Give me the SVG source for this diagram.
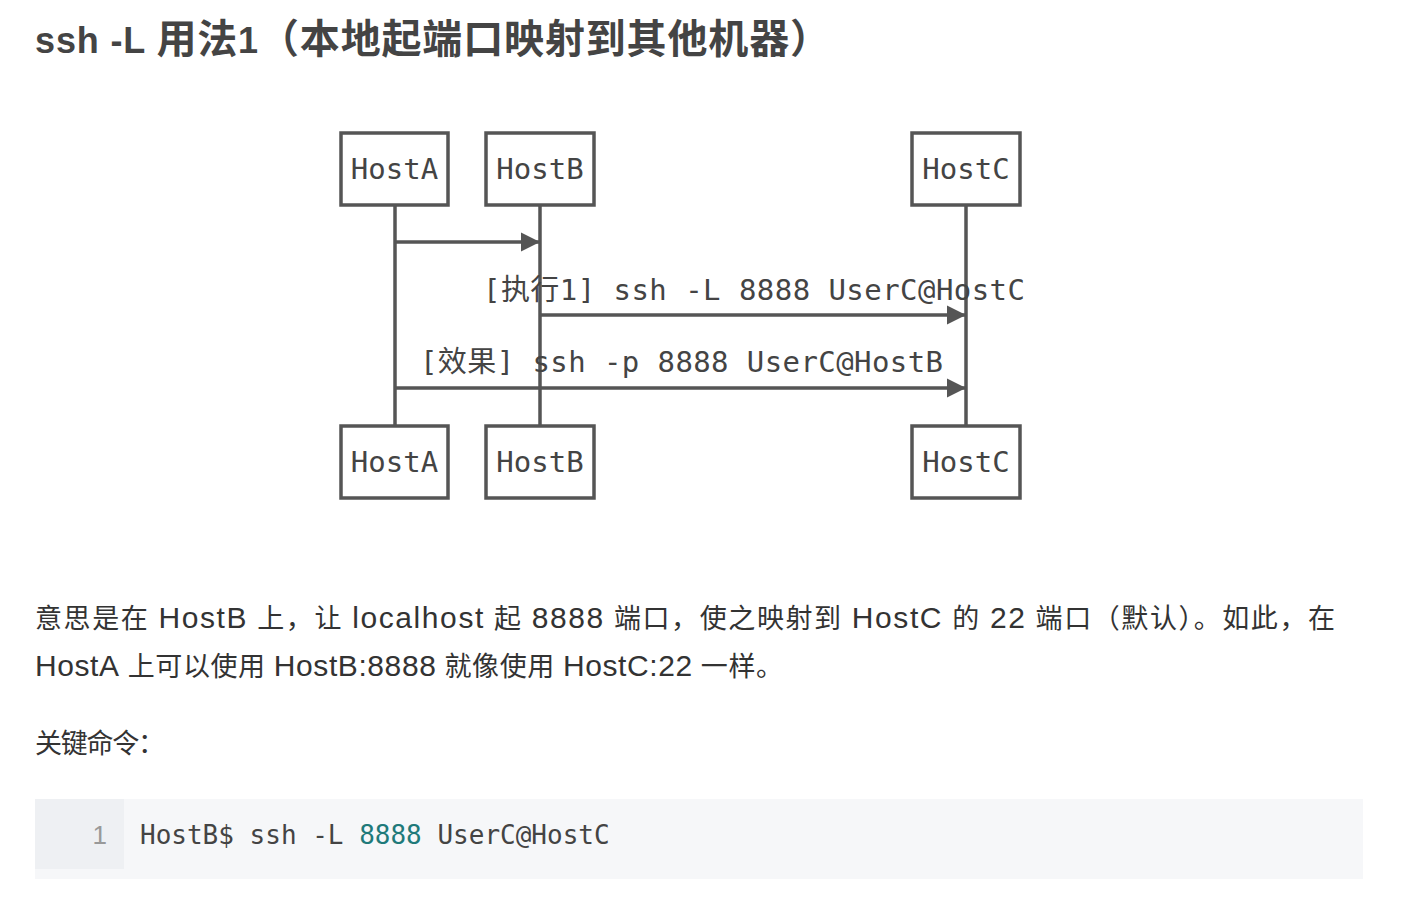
<svg xmlns="http://www.w3.org/2000/svg" width="1408" height="906" viewBox="0 0 1408 906">
<style>
.box{fill:#fff;stroke:#555;stroke-width:3.5}
.lbl{font-family:"DejaVu Sans Mono","Noto Sans CJK SC",monospace;font-size:29px;fill:#444;text-anchor:middle}
.ln{stroke:#555;stroke-width:3.5;fill:none}
.msg{font-family:"DejaVu Sans Mono","Noto Sans CJK SC",monospace;font-size:29px;fill:#444;text-anchor:middle}
.p{font-family:"Liberation Sans","Noto Sans CJK SC",sans-serif;font-size:27px;fill:#333}
.L{font-size:30px}
.t{font-family:"Liberation Sans","Noto Sans CJK SC",sans-serif;font-size:40px;font-weight:bold;fill:#444}
.tl{font-size:36px}
.code{font-family:"DejaVu Sans Mono","Noto Sans CJK SC",monospace;font-size:26px;fill:#444}
</style>
<defs>
<marker id="ah" viewBox="0 0 10 10" refX="10" refY="5" markerWidth="5.5" markerHeight="5.5" markerUnits="strokeWidth" orient="auto">
<path d="M0,0 L10,5 L0,10 Z" fill="#555"/>
</marker>
</defs>
<rect width="1408" height="906" fill="#fff"/>
<text class="t" x="35" y="53" textLength="795"><tspan class="tl">ssh -L </tspan>用法<tspan class="tl">1</tspan>（本地起端口映射到其他机器）</text>

<g id="lifelines">
<line class="ln" x1="395" y1="205" x2="395" y2="425"/>
<line class="ln" x1="540" y1="205" x2="540" y2="425"/>
<line class="ln" x1="966" y1="205" x2="966" y2="425"/>
</g>
<g id="connectors">
<line class="ln" x1="395" y1="242" x2="540" y2="242" marker-end="url(#ah)"/>
<line class="ln" x1="540" y1="315" x2="966" y2="315" marker-end="url(#ah)"/>
<line class="ln" x1="395" y1="388" x2="966" y2="388" marker-end="url(#ah)"/>
</g>
<g id="labels">
<text class="msg" x="754" y="300" textLength="542">[执行1] ssh -L 8888 UserC@HostC</text>
<text class="msg" x="681.5" y="372" textLength="523">[效果] ssh -p 8888 UserC@HostB</text>
</g>
<g id="hostA-top"><rect class="box" x="341" y="133" width="107" height="72"/><text class="lbl" x="394.5" y="179">HostA</text></g>
<g id="hostB-top"><rect class="box" x="486" y="133" width="108" height="72"/><text class="lbl" x="540" y="179">HostB</text></g>
<g id="hostC-top"><rect class="box" x="912" y="133" width="108" height="72"/><text class="lbl" x="966" y="179">HostC</text></g>
<g id="hostA-bottom"><rect class="box" x="341" y="426" width="107" height="72"/><text class="lbl" x="394.5" y="472">HostA</text></g>
<g id="hostB-bottom"><rect class="box" x="486" y="426" width="108" height="72"/><text class="lbl" x="540" y="472">HostB</text></g>
<g id="hostC-bottom"><rect class="box" x="912" y="426" width="108" height="72"/><text class="lbl" x="966" y="472">HostC</text></g>

<text class="p" x="35" y="628" textLength="1300">意思是在 <tspan class="L">HostB</tspan> 上，让 <tspan class="L">localhost</tspan> 起 <tspan class="L">8888</tspan> 端口，使之映射到 <tspan class="L">HostC</tspan> 的 <tspan class="L">22</tspan> 端口（默认）。如此，在</text>
<text class="p" x="35" y="676" textLength="748"><tspan class="L">HostA</tspan> 上可以使用 <tspan class="L">HostB:8888</tspan> 就像使用 <tspan class="L">HostC:22</tspan> 一样。</text>
<text class="p" x="35" y="753" textLength="130">关键命令：</text>

<g id="codeblock">
<rect x="35" y="799" width="1328" height="80" fill="#f6f7f9"/>
<rect x="35" y="799" width="89" height="70" fill="#eef0f3"/>
<text x="107" y="844" font-family="'Liberation Sans',sans-serif" font-size="26" fill="#999" text-anchor="end">1</text>
<text class="code" x="140" y="844">HostB$ ssh -L <tspan fill="#1f7a7a">8888</tspan> UserC@HostC</text>
</g>
</svg>
